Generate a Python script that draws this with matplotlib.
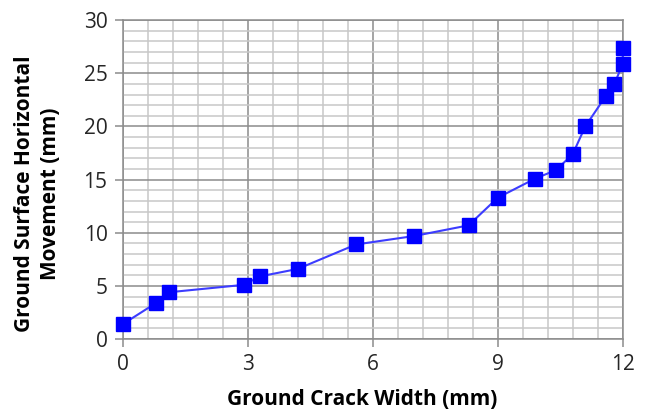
import numpy as np
import matplotlib
matplotlib.use('Agg')
import matplotlib.pyplot as plt
from matplotlib.ticker import MultipleLocator

crack_width = [0.0, 0.8, 1.1, 2.9, 3.3, 4.2, 5.6, 7.0, 8.3, 9.0,
               9.9, 10.4, 10.8, 11.1, 11.6, 11.8, 12.0, 12.0]
horiz_move = [1.4, 3.4, 4.4, 5.1, 5.9, 6.6, 8.9, 9.7, 10.7, 13.3,
              15.1, 15.9, 17.4, 20.0, 22.9, 24.0, 25.9, 27.4]

plt.rcParams['font.family'] = ['Open Sans', 'DejaVu Sans']

fig = plt.figure(figsize=(6.46, 4.12), dpi=100)
ax = fig.add_axes([0.19, 0.177, 0.774, 0.774])

ax.plot(crack_width, horiz_move, color='#3c3cff', lw=1.5,
        marker='s', markersize=10, markerfacecolor='#0000ff',
        markeredgecolor='#0000ff', zorder=3, clip_on=False)

ax.set_xlim(0, 12)
ax.set_ylim(0, 30)
ax.xaxis.set_major_locator(MultipleLocator(3))
ax.xaxis.set_minor_locator(MultipleLocator(0.6))
ax.yaxis.set_major_locator(MultipleLocator(5))
ax.yaxis.set_minor_locator(MultipleLocator(1))

ax.grid(which='major', color='#8c8c8c', lw=1.1)
ax.grid(which='minor', color='#c8c8c8', lw=1.1)
ax.set_axisbelow(True)

for s in ax.spines.values():
    s.set_color('#8c8c8c')
    s.set_linewidth(1.1)

ax.tick_params(which='major', length=6, color='#8c8c8c', width=1.1,
               labelsize=15, pad=5, labelcolor='#262626')
ax.tick_params(which='minor', length=0)

ax.set_xlabel('Ground Crack Width (mm)', fontsize=15, fontweight='bold')
ax.set_ylabel('Ground Surface Horizontal\nMovement (mm)', fontsize=15,
              fontweight='bold', linespacing=1.3)
ax.xaxis.set_label_coords(0.478, -0.155)
ax.yaxis.set_label_coords(-0.124, 0.455)

fig.savefig('out.png', dpi=100)
